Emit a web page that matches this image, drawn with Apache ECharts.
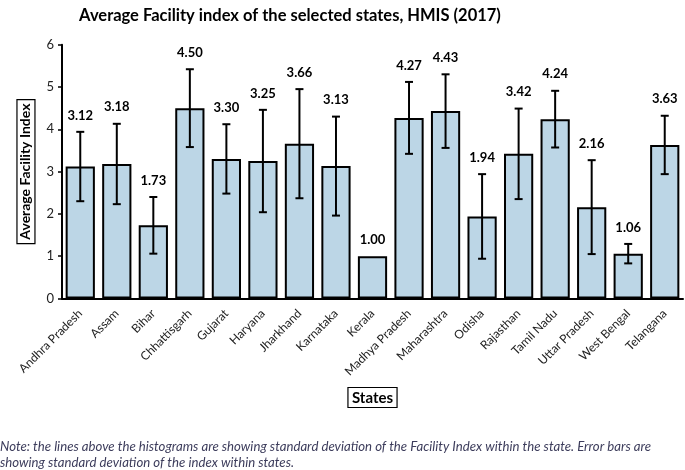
<!DOCTYPE html>
<html>
<head>
<meta charset="utf-8">
<script src="https://cdn.jsdelivr.net/npm/echarts@6/dist/echarts.min.js"></script>
<style>
html,body{margin:0;padding:0;background:#fff;}
#c{width:685px;height:470px;}
</style>
</head>
<body>
<div id="c"></div>
<script>
const states = ["Andhra Pradesh","Assam","Bihar","Chhattisgarh","Gujarat","Haryana","Jharkhand","Karnataka","Kerala","Madhya Pradesh","Maharashtra","Odisha","Rajasthan","Tamil Nadu","Uttar Pradesh","West Bengal","Telangana"];
const avgIndex = [3.12,3.18,1.73,4.50,3.30,3.25,3.66,3.13,1.00,4.27,4.43,1.94,3.42,4.24,2.16,1.06,3.63];
const stdDev = [0.82,0.95,0.67,0.92,0.82,1.21,1.29,1.17,0,0.85,0.87,1.00,1.07,0.67,1.11,0.23,0.69];
const yTicks = [0,1,2,3,4,5,6];

const FONT = 'Lato, "Open Sans", sans-serif';
const chart = echarts.init(document.getElementById('c'), null, {renderer:'canvas'});

const errData = states.map((s,i)=>[i, avgIndex[i]-stdDev[i], avgIndex[i]+stdDev[i], avgIndex[i]]);

chart.setOption({
  animation:false,
  backgroundColor:'#fff',
  title:{
    text:'Average Facility index of the selected states, HMIS (2017)',
    left:285, top:2, textAlign:'center',
    textStyle:{fontFamily:FONT,fontWeight:'bold',fontSize:16.5,color:'#000'}
  },
  grid:{left:62,right:2,top:44.7,bottom:171.5,containLabel:false},
  xAxis:{
    type:'category',
    data:states,
    axisLine:{lineStyle:{color:'#000',width:2}},
    axisTick:{alignWithLabel:true,length:4,lineStyle:{color:'#000',width:1.5}},
    axisLabel:{rotate:45,interval:0,fontFamily:FONT,fontSize:12,color:'#222',margin:13},
    name:'States',
    nameLocation:'middle',
    nameGap:89,
    nameTextStyle:{fontFamily:FONT,fontWeight:'bold',fontSize:15,color:'#000',
      borderColor:'#000',borderWidth:1.2,padding:[3,4,2,4],
      align:'center'}
  },
  yAxis:{
    type:'value',min:0,max:6,interval:1,
    axisLine:{show:true,lineStyle:{color:'#000',width:2}},
    axisTick:{show:true,length:4,lineStyle:{color:'#000',width:1.5}},
    splitLine:{show:false},
    axisLabel:{fontFamily:FONT,fontSize:13,color:'#222',margin:8,
      formatter:v=>yTicks.includes(v)?String(v):''},
    name:'Average Facility Index',
    nameLocation:'middle',
    nameGap:25,
    nameRotate:90,
    nameTextStyle:{fontFamily:FONT,fontWeight:'bold',fontSize:14,color:'#000',
      borderColor:'#000',borderWidth:1.2,padding:[2,4,2,4]}
  },
  series:[
    {
      type:'bar',
      data:avgIndex,
      barCategoryGap:'20%',
      itemStyle:{color:'#bcd6e6',borderColor:'#000',borderWidth:2},
      z:2
    },
    {
      type:'custom',
      data:errData,
      z:5,
      renderItem:function(params,api){
        const x=api.value(0);
        const lo=api.coord([x,api.value(1)]);
        const hi=api.coord([x,api.value(2)]);
        const avg=api.value(3);
        const cw=4;
        const children=[];
        if(Math.abs(hi[1]-lo[1])>0.5){
          const st={stroke:'#000',lineWidth:2};
          children.push({type:'line',shape:{x1:hi[0],y1:hi[1],x2:lo[0],y2:lo[1]},style:st});
          children.push({type:'line',shape:{x1:hi[0]-cw,y1:hi[1],x2:hi[0]+cw,y2:hi[1]},style:st});
          children.push({type:'line',shape:{x1:lo[0]-cw,y1:lo[1],x2:lo[0]+cw,y2:lo[1]},style:st});
        }
        children.push({type:'text',style:{text:avg.toFixed(2),x:hi[0],y:hi[1]-10,
          align:'center',verticalAlign:'bottom',
          font:'bold 13px '+FONT,fill:'#000'}});
        return {type:'group',children:children};
      }
    }
  ],
  graphic:[
    {type:'text',left:0,top:439,style:{
      text:'Note: the lines above the histograms are showing standard deviation of the Facility Index within the state. Error bars are\nshowing standard deviation of the index within states.',
      font:'italic 13.2px '+FONT,fill:'#3d3d5c',lineHeight:16}}
  ]
});
</script>
</body>
</html>
